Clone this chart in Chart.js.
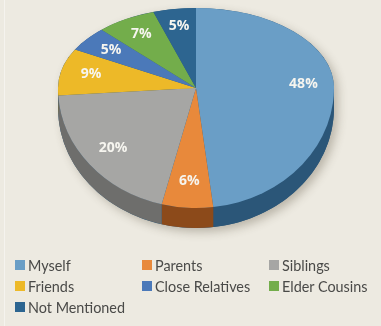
<!DOCTYPE html>
<html>
<head>
<meta charset="utf-8">
<script src="https://cdn.jsdelivr.net/npm/chart.js@4.4.1/dist/chart.umd.min.js"></script>
<style>
    html, body { margin: 0; padding: 0; background: #EDEAE1; }
    #wrap { position: relative; width: 381px; height: 326px; overflow: hidden; }
    #wrap::before { content: ''; position: absolute; left: 4px; top: 0; bottom: 0; width: 1px; background: #F5F3EE; }
    #pie { position: absolute; left: 0; top: 0; }
    #legend {
        position: absolute; left: 15px; top: 256px;
        display: grid; grid-template-columns: 127px 127px 112px; row-gap: 3px;
        font: 14.4px Lato, sans-serif; color: #4A4A48;
    }
    .item { display: flex; align-items: center; height: 18px; white-space: nowrap; }
    .box { width: 10px; height: 10px; margin-right: 3px; flex: none; }
</style>
</head>
<body>
<div id="wrap">
    <canvas id="pie" width="381" height="326"></canvas>
    <div id="legend"></div>
</div>
<script>
// Дані діаграми
const labels = ['Myself', 'Parents', 'Siblings', 'Friends', 'Close Relatives', 'Elder Cousins', 'Not Mentioned'];
const values = [48, 6, 20, 9, 5, 7, 5];
const topColors = ['#6A9EC6', '#E8893B', '#A6A6A4', '#EDB928', '#4B79B9', '#73AD4B', '#2D6590'];
const sideColors = ['#2B5678', '#8C4A1A', '#6E6E6C', '#9A7510', '#2D4A78', '#46702A', '#1B3F5C'];

// Параметри "об'ємного" вигляду: задня половина стиснута сильніше за передню
const CENTER_Y = 88;
const TILT_BACK = 0.58;
const TILT_FRONT = 0.87;
const DEPTH = 20;
const LABEL_POS = 0.78;

const pie3d = {
    id: 'pie3d',
    beforeDatasetsDraw(chart) {
        const ctx = chart.ctx;
        const arcs = chart.getDatasetMeta(0).data;
        const cx = arcs[0].x;
        const cy = arcs[0].y;
        const r = arcs[0].outerRadius;
        const W = chart.width;
        const H = chart.height;
        const d = DEPTH / TILT_FRONT;

        const tiltTo = (tilt) => {
            ctx.setTransform(1, 0, 0, 1, 0, 0);
            ctx.translate(0, CENTER_Y);
            ctx.scale(1, tilt);
            ctx.translate(0, -cy);
        };

        // малювання в одній половині площини з власним нахилом
        const half = (tilt, top, bottom, draw) => {
            ctx.save();
            ctx.beginPath();
            ctx.rect(0, top, W, bottom - top);
            ctx.clip();
            tiltTo(tilt);
            draw();
            ctx.restore();
        };

        // тінь під усім пирогом одним контуром
        ctx.save();
        ctx.beginPath();
        tiltTo(TILT_BACK);
        ctx.arc(cx, cy, r, Math.PI, Math.PI * 2);
        tiltTo(TILT_FRONT);
        ctx.lineTo(cx + r, cy + d);
        ctx.arc(cx, cy + d, r, 0, Math.PI);
        ctx.closePath();
        ctx.setTransform(1, 0, 0, 1, 0, 0);
        ctx.shadowColor = 'rgba(70, 60, 40, 0.3)';
        ctx.shadowBlur = 10;
        ctx.shadowOffsetX = 4;
        ctx.shadowOffsetY = 4;
        ctx.fillStyle = sideColors[0];
        ctx.fill();
        ctx.restore();

        // бічні стінки (видно лише спереду)
        half(TILT_FRONT, CENTER_Y, H, () => {
            arcs.forEach((arc, i) => {
                ctx.fillStyle = sideColors[i];
                ctx.beginPath();
                ctx.arc(arc.x, cy, r, arc.startAngle, arc.endAngle);
                ctx.arc(arc.x, cy + d, r, arc.endAngle, arc.startAngle, true);
                ctx.closePath();
                ctx.fill();
            });
        });

        // верхня грань секторів
        half(TILT_BACK, 0, CENTER_Y + 1, () => arcs.forEach(a => a.draw(ctx)));
        half(TILT_FRONT, CENTER_Y, H, () => arcs.forEach(a => a.draw(ctx)));

        return false;
    },
    afterDraw(chart) {
        const ctx = chart.ctx;
        const arcs = chart.getDatasetMeta(0).data;

        // підписи відсотків
        ctx.save();
        ctx.font = 'bold 14px "Open Sans", sans-serif';
        ctx.fillStyle = '#F6F5EF';
        ctx.textAlign = 'center';
        ctx.textBaseline = 'middle';
        arcs.forEach((arc, i) => {
            const mid = (arc.startAngle + arc.endAngle) / 2;
            const s = Math.sin(mid);
            const tilt = s < 0 ? TILT_BACK : TILT_FRONT;
            const x = arc.x + Math.cos(mid) * arc.outerRadius * LABEL_POS;
            const y = CENTER_Y + s * arc.outerRadius * LABEL_POS * tilt;
            ctx.fillText(values[i] + '%', x, y);
        });
        ctx.restore();
    }
};

const chart = new Chart(document.getElementById('pie'), {
    type: 'pie',
    data: {
        labels: labels,
        datasets: [{
            data: values,
            backgroundColor: topColors,
            borderWidth: 0
        }]
    },
    options: {
        responsive: false,
        animation: false,
        layout: {
            padding: { left: 58, right: 47, top: 0, bottom: 50 }
        },
        plugins: {
            legend: { display: false },
            tooltip: { enabled: false }
        }
    },
    plugins: [pie3d]
});

// Легенда в три колонки
const legend = document.getElementById('legend');
labels.forEach((name, i) => {
    const item = document.createElement('div');
    item.className = 'item';
    item.innerHTML = `<span class="box" style="background:${topColors[i]}"></span>${name}`;
    legend.appendChild(item);
});
</script>
</body>
</html>
